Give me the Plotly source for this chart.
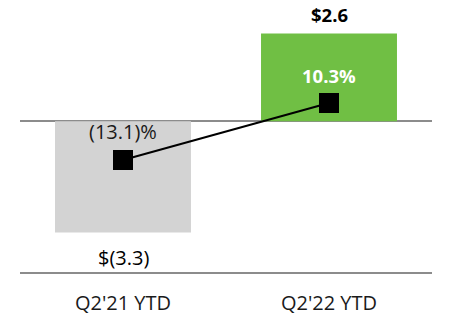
import plotly.graph_objects as go

periods = ["Q2'21 YTD", "Q2'22 YTD"]
amounts = [-3.3, 2.6]          # $ (billions)
amount_labels = ["$(3.3)", "$2.6"]
margins = [-13.1, 10.3]        # %
margin_labels = ["(13.1)%", "10.3%"]

bar_colors = ["#d3d3d3", "#70bf44"]
font_family = "Open Sans, Noto Sans, sans-serif"

fig = go.Figure()

fig.add_trace(go.Bar(
    x=periods, y=amounts, marker_color=bar_colors, marker_line_width=0,
    width=0.66, hoverinfo="skip",
))

fig.add_trace(go.Scatter(
    x=periods, y=margins, yaxis="y2", mode="lines+markers",
    line=dict(color="black", width=2),
    marker=dict(symbol="square", size=20, color="black"),
    hoverinfo="skip",
))

# Amount labels: above positive bars, below negative ones
for p, v, t in zip(periods, amounts, amount_labels):
    pos = v >= 0
    fig.add_annotation(
        x=p, y=v, xref="x", yref="y", text=t, showarrow=False,
        yshift=19 if pos else -25,
        font=dict(size=18.5 if pos else 20, color="black", family=font_family,
                  weight="bold" if pos else "normal"),
    )

# Margin labels above the line markers
for p, v, t in zip(periods, margins, margin_labels):
    pos = v >= 0
    fig.add_annotation(
        x=p, y=v, xref="x", yref="y2", text=t, showarrow=False,
        yshift=28,
        font=dict(size=18.5 if pos else 20,
                  color="white" if pos else "#1a1a1a",
                  family=font_family,
                  weight="bold" if pos else "normal"),
    )

fig.update_layout(
    width=452, height=332,
    margin=dict(l=20, r=20, t=0, b=60),
    plot_bgcolor="white", paper_bgcolor="white",
    showlegend=False,
    font=dict(family=font_family, size=20, color="#1a1a1a"),
    xaxis=dict(
        range=[-0.5, 1.5], showgrid=False, showline=True,
        linecolor="#8c8c8c", linewidth=2,
        ticks="outside", ticklen=12, tickcolor="rgba(0,0,0,0)",
        tickfont=dict(size=20, color="#1a1a1a"),
    ),
    yaxis=dict(
        range=[-4.47, 3.59], showgrid=False, showticklabels=False,
        zeroline=True, zerolinecolor="#8c8c8c", zerolinewidth=2,
    ),
    yaxis2=dict(
        range=[-59.1, 52.6], overlaying="y", side="right",
        showgrid=False, showticklabels=False, zeroline=False,
    ),
)

fig.write_html("out.html")
